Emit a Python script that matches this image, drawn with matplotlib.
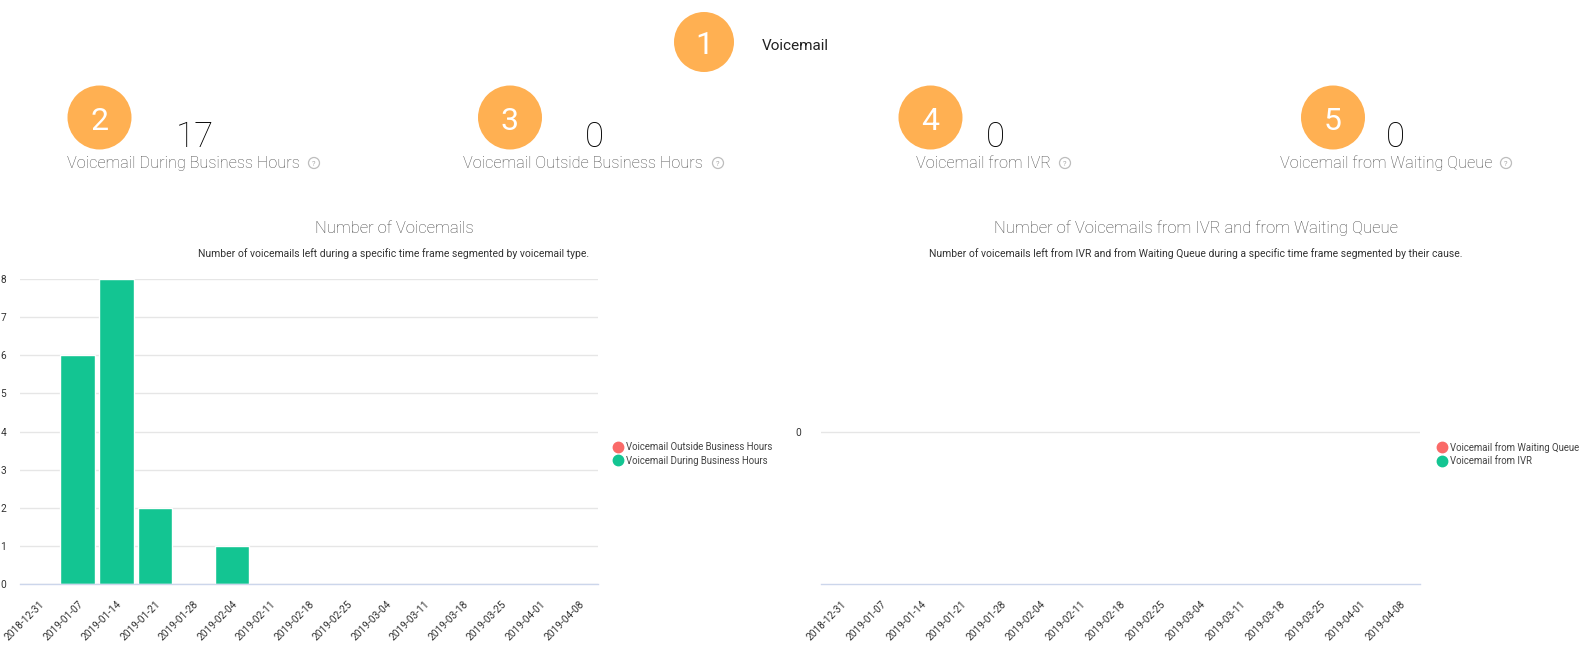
import matplotlib
matplotlib.use('Agg')
import matplotlib.pyplot as plt
from matplotlib.patches import Circle
from matplotlib.lines import Line2D
import numpy as np

plt.rcParams['font.family'] = ['Roboto', 'DejaVu Sans']

weeks = ['2018-12-31', '2019-01-07', '2019-01-14', '2019-01-21', '2019-01-28',
         '2019-02-04', '2019-02-11', '2019-02-18', '2019-02-25', '2019-03-04',
         '2019-03-11', '2019-03-18', '2019-03-25', '2019-04-01', '2019-04-08']
during_hours = [0, 6, 8, 2, 0, 1, 0, 0, 0, 0, 0, 0, 0, 0, 0]
outside_hours = [0] * 15
from_ivr = [0] * 15
from_queue = [0] * 15

kpi_labels = ['Voicemail During Business Hours', 'Voicemail Outside Business Hours',
              'Voicemail from IVR', 'Voicemail from Waiting Queue']
kpi_values = [17, 0, 0, 0]

GREEN = '#13c592'
RED = '#fa6a68'
ORANGE = '#ffb052'
GRID = '#e6e6e6'
AXIS = '#ccd6eb'

W, H = 1582, 648
fig = plt.figure(figsize=(W / 100, H / 100), dpi=100)


def fx(x):
    return x / W


def fy(y):
    return 1 - y / H


# overlay in pixel coords for the badges
over = fig.add_axes([0, 0, 1, 1])
over.set_xlim(0, W)
over.set_ylim(H, 0)
over.axis('off')


def badge(cx, cy, r, num):
    over.add_patch(Circle((cx, cy), r, color=ORANGE, lw=0))
    over.text(cx, cy + 12, str(num), color='white', fontsize=23,
              ha='center', va='baseline')


def qmark(cx, cy):
    over.add_patch(Circle((cx, cy), 5.5, facecolor='none', edgecolor='#bdbdbd', lw=0.9))
    over.text(cx, cy + 0.5, '?', color='#a8a8a8', fontsize=5.5, ha='center', va='center')


badge(704, 42, 30, 1)
over.text(762, 50.5, 'Voicemail', fontsize=11, color='#222222', va='baseline')

badge_x = [99.5, 510, 930.5, 1333]
num_x = [176, 585, 985.5, 1386]
label_x = [67, 463, 916, 1280]
q_x = [314, 718, 1065, 1506]
for i in range(4):
    badge(badge_x[i], 117.5, 32, i + 2)
    over.text(num_x[i], 147, str(kpi_values[i]), fontsize=25, color='#000000',
              va='baseline', fontweight='light')
    over.text(label_x[i], 168, kpi_labels[i], fontsize=11.7, color='#4a4a4a',
              va='baseline', fontweight='light')
    qmark(q_x[i], 163)


def style_axes(ax):
    for s in ['top', 'right', 'left']:
        ax.spines[s].set_visible(False)
    ax.spines['bottom'].set_color(AXIS)
    ax.spines['bottom'].set_linewidth(1)
    ax.yaxis.grid(True, color=GRID, lw=1)
    ax.set_axisbelow(True)
    ax.tick_params(axis='both', length=0, labelsize=7.3, labelcolor='#333333')
    ax.set_xticks(range(len(weeks)))
    ax.set_xticklabels(weeks, rotation=45, ha='right', va='top', rotation_mode='anchor')
    ax.set_xlim(-0.5, len(weeks) - 0.5)
    ax.tick_params(axis='x', pad=11)


# left chart
ax1 = fig.add_axes([fx(20), fy(584), 578 / W, 305 / H])
x = np.arange(len(weeks))
ax1.bar(x, during_hours, width=0.9, color=GREEN, edgecolor='white', lw=1)
ax1.bar(x, outside_hours, bottom=during_hours, width=0.9, color=RED, edgecolor='white', lw=0)
style_axes(ax1)
ax1.set_ylim(0, 8)
ax1.set_yticks(range(0, 9))
ax1.tick_params(axis='y', pad=10)

fig.text(fx(394), fy(233), 'Number of Voicemails', fontsize=12, color='#444444',
         ha='center', va='baseline', fontweight='light')
fig.text(fx(394), fy(257), 'Number of voicemails left during a specific time frame segmented by voicemail type.',
         fontsize=7.45, color='#333333', ha='center', va='baseline')

h1 = [Line2D([], [], marker='o', ls='', color=RED, markersize=7.5),
      Line2D([], [], marker='o', ls='', color=GREEN, markersize=7.5)]
fig.legend(h1, ['Voicemail Outside Business Hours', 'Voicemail During Business Hours'],
           loc='center left', bbox_to_anchor=(fx(612), fy(454)), frameon=False,
           fontsize=6.9, labelcolor='#444444', handletextpad=0.3, labelspacing=0.35,
           borderaxespad=0, borderpad=0, handlelength=1.2)

# right chart
ax2 = fig.add_axes([fx(821), fy(584), 599 / W, 305 / H])
ax2.bar(x, from_ivr, width=0.9, color=GREEN)
ax2.bar(x, from_queue, bottom=from_ivr, width=0.9, color=RED)
style_axes(ax2)
ax2.set_ylim(-1, 1)
ax2.set_yticks([0])
ax2.tick_params(axis='y', pad=14)

fig.text(fx(1196), fy(233), 'Number of Voicemails from IVR and from Waiting Queue', fontsize=12,
         color='#444444', ha='center', va='baseline', fontweight='light')
fig.text(fx(1196), fy(257),
         'Number of voicemails left from IVR and from Waiting Queue during a specific time frame segmented by their cause.',
         fontsize=7.5, color='#333333', ha='center', va='baseline')

h2 = [Line2D([], [], marker='o', ls='', color=RED, markersize=7.5),
      Line2D([], [], marker='o', ls='', color=GREEN, markersize=7.5)]
fig.legend(h2, ['Voicemail from Waiting Queue', 'Voicemail from IVR'],
           loc='center left', bbox_to_anchor=(fx(1436), fy(454)), frameon=False,
           fontsize=6.9, labelcolor='#444444', handletextpad=0.3, labelspacing=0.35,
           borderaxespad=0, borderpad=0, handlelength=1.2)

fig.savefig('out.png', dpi=100, facecolor='white')
